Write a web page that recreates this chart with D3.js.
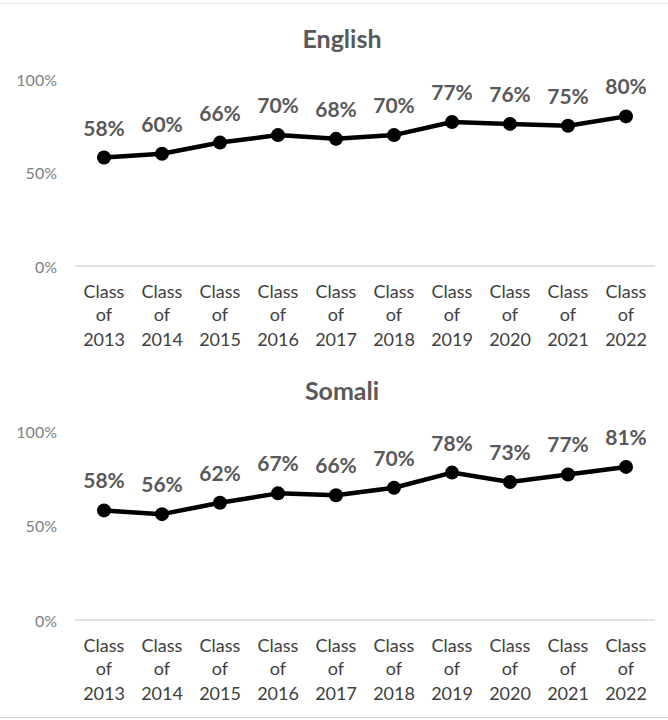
<!DOCTYPE html>
<html>
<head>
<meta charset="utf-8">
<script src="https://cdn.jsdelivr.net/npm/d3@7"></script>
<style>
  html, body { margin: 0; padding: 0; background: #fff; }
  text { font-family: Lato, "Open Sans", sans-serif; }
</style>
</head>
<body>
<svg id="chart" width="668" height="720"></svg>
<script>
const categories = ["2013","2014","2015","2016","2017","2018","2019","2020","2021","2022"];
const englishValues = [58, 60, 66, 70, 68, 70, 77, 76, 75, 80];
const somaliValues  = [58, 56, 62, 67, 66, 70, 78, 73, 77, 81];
const yTicks = [0, 50, 100];
const panelTitles = ["English", "Somali"];

const svg = d3.select("#chart");
svg.append("rect").attr("width", 668).attr("height", 720).attr("fill", "#fff");
svg.append("line").attr("x1", 0).attr("x2", 668).attr("y1", 3.5).attr("y2", 3.5)
  .attr("stroke", "#e6e6e6").attr("stroke-width", 1);
svg.append("line").attr("x1", 0).attr("x2", 668).attr("y1", 717.5).attr("y2", 717.5)
  .attr("stroke", "#d0d0d0").attr("stroke-width", 1);

const x = d3.scaleBand().domain(categories).range([75, 655]);

const panels = [
  { title: panelTitles[0], values: englishValues, titleY: 38, y0: 266, y100: 79 },
  { title: panelTitles[1], values: somaliValues,  titleY: 390, y0: 620, y100: 431 }
];

panels.forEach(p => {
  const y = d3.scaleLinear().domain([0, 100]).range([p.y0, p.y100]);
  const g = svg.append("g");

  g.append("text").attr("x", 342).attr("y", p.titleY)
    .attr("text-anchor", "middle").attr("dominant-baseline", "central")
    .attr("font-size", 25).attr("font-weight", "bold").attr("fill", "#595959")
    .text(p.title);

  g.append("line").attr("x1", x.range()[0]).attr("x2", x.range()[1])
    .attr("y1", y(0)).attr("y2", y(0)).attr("stroke", "#d9d9d9").attr("stroke-width", 1.5);

  g.selectAll(".yt").data(yTicks).enter().append("text")
    .attr("x", 57).attr("y", d => y(d))
    .attr("text-anchor", "end").attr("dominant-baseline", "central")
    .attr("font-size", 16).attr("fill", "#7f7f7f")
    .text(d => d + "%");

  const cat = g.selectAll(".cat").data(categories).enter().append("text")
    .attr("text-anchor", "middle").attr("font-size", 18).attr("fill", "#404040")
    .attr("transform", d => `translate(${x(d) + x.bandwidth() / 2},${y(0)})`);
  cat.append("tspan").attr("x", 0).attr("y", 32).text("Class");
  cat.append("tspan").attr("x", 0).attr("y", 55).text("of");
  cat.append("tspan").attr("x", 0).attr("y", 80).text(d => d);

  const data = categories.map((c, i) => ({ c, v: p.values[i] }));
  const line = d3.line().x(d => x(d.c) + x.bandwidth() / 2).y(d => y(d.v));
  g.append("path").datum(data).attr("d", line)
    .attr("fill", "none").attr("stroke", "#000").attr("stroke-width", 4.5)
    .attr("stroke-linejoin", "round");
  g.selectAll(".pt").data(data).enter().append("circle")
    .attr("cx", d => x(d.c) + x.bandwidth() / 2).attr("cy", d => y(d.v))
    .attr("r", 7).attr("fill", "#000");

  g.selectAll(".lbl").data(data).enter().append("text")
    .attr("x", d => x(d.c) + x.bandwidth() / 2).attr("y", d => y(d.v) - 22)
    .attr("text-anchor", "middle")
    .attr("font-size", 21).attr("font-weight", "bold").attr("fill", "#595959")
    .text(d => d.v + "%");
});
</script>
</body>
</html>
